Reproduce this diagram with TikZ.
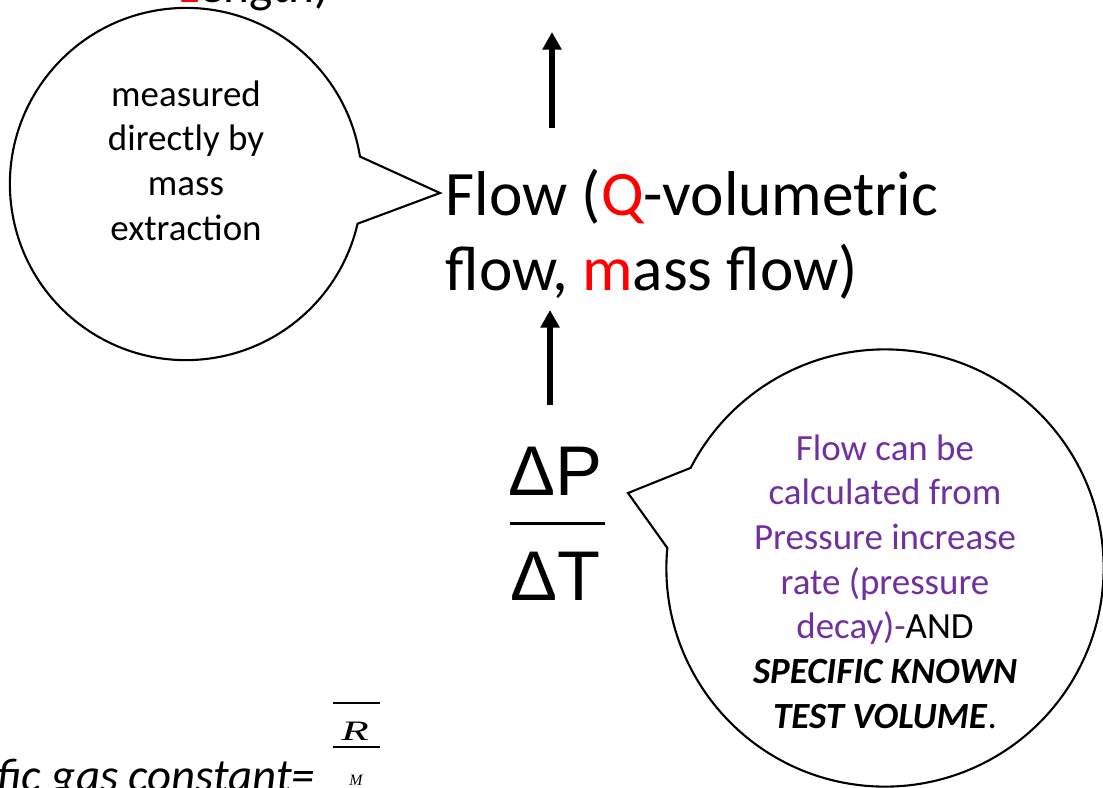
\documentclass[tikz,border=0pt]{standalone}
\usepackage{fontspec}
\setmainfont{Carlito}
\newfontfamily\arialfont{Liberation Sans}
\newfontfamily\timesfont{Liberation Serif}
\usetikzlibrary{positioning,arrows.meta,calc,shapes.callouts}
\definecolor{qred}{RGB}{255,0,0}
\definecolor{notepurple}{RGB}{112,48,160}

\tikzset{
  bubble/.style={ellipse callout,draw,line width=0.6pt,inner sep=0pt,
    minimum width=3.52cm,minimum height=3.52cm,callout pointer arc=22},
  bubbletext/.style={align=center,inner sep=0pt,
    font=\fontsize{10.5}{12.7}\selectfont},
  uparrow/.style={line width=1.7pt,-{Triangle[length=5pt,width=5.2pt]}}
}

\begin{document}
\begin{tikzpicture}[x=0.01cm,y=-0.01cm]
  \useasboundingbox (0,0) rectangle (1103,787);
  \clip (0,0) rectangle (1103,787);
  % main text
  \node[anchor=base west,inner sep=0pt,align=left,
        font=\fontsize{18}{21.3}\selectfont] (flow) at (445,290)
    {Flow (\textcolor{qred}{Q}-volumetric\\flow, \textcolor{qred}{m}ass flow)};
  \node[anchor=base west,inner sep=0pt,font=\fontsize{14}{17}\selectfont]
    (length) at (178,2) {\textcolor{qred}{L}ength)};
  \node[inner sep=0pt,font=\arialfont\fontsize{20}{24}\selectfont] (dp) at (555,471) {ΔP};
  \node[inner sep=0pt,font=\arialfont\fontsize{20}{24}\selectfont] (dt) at (555,576) {ΔT};
  \coordinate (mid) at ($(dp.south)!.5!(dt.north)$);
  \draw[line width=0.6pt] ([xshift=-0.45cm]mid) -- ([xshift=0.5cm]mid);
  % arrows
  \coordinate (top) at (552,32);
  \coordinate (low) at (550,405);
  \coordinate (high) at (550,310);
  \draw[uparrow] (552,128) -- (top);
  \draw[uparrow] (low) -- (high);
  % bubbles
  \coordinate (flowtip) at (440,193);
  \coordinate (dptip) at (628,493);
  \node[bubble,callout absolute pointer={(flowtip)}] (lbub) at (186,184) {};
  \node[bubbletext] (ltext) at ([yshift=0.235cm]lbub.center)
    {measured\\directly by\\mass\\extraction};
  \node[bubble,minimum width=4.37cm,minimum height=4.37cm,
        callout absolute pointer={(dptip)}] (rbub) at (885,568) {};
  \node[bubbletext] (rtext) at ([yshift=-0.135cm]rbub.center)
    {\textcolor{notepurple}{Flow can be}\\\textcolor{notepurple}{calculated from}\\
     \textcolor{notepurple}{Pressure increase}\\\textcolor{notepurple}{rate (pressure}\\
     \textcolor{notepurple}{decay)-}AND\\\textbf{\textit{SPECIFIC KNOWN}}\\
     \textbf{\textit{TEST VOLUME}}.};
  % gas constant
  \node[anchor=base east,inner sep=0pt,font=\itshape\fontsize{13.3}{16}\selectfont]
    (gas) at (316,791) {Specific gas constant=};
  \node[inner sep=0pt,font=\timesfont\itshape\fontsize{8}{9}\selectfont] (rr) at (355,731)
    {\scalebox{1.6}[1]{R}};
  \node[inner sep=0pt,font=\timesfont\itshape\fontsize{4.5}{5}\selectfont] (mm) at (356,780) {M};
  \draw[line width=0.5pt] (333,703) -- (380,703);
  \draw[line width=0.5pt] (333,747) -- (380,747);
\end{tikzpicture}
\end{document}
